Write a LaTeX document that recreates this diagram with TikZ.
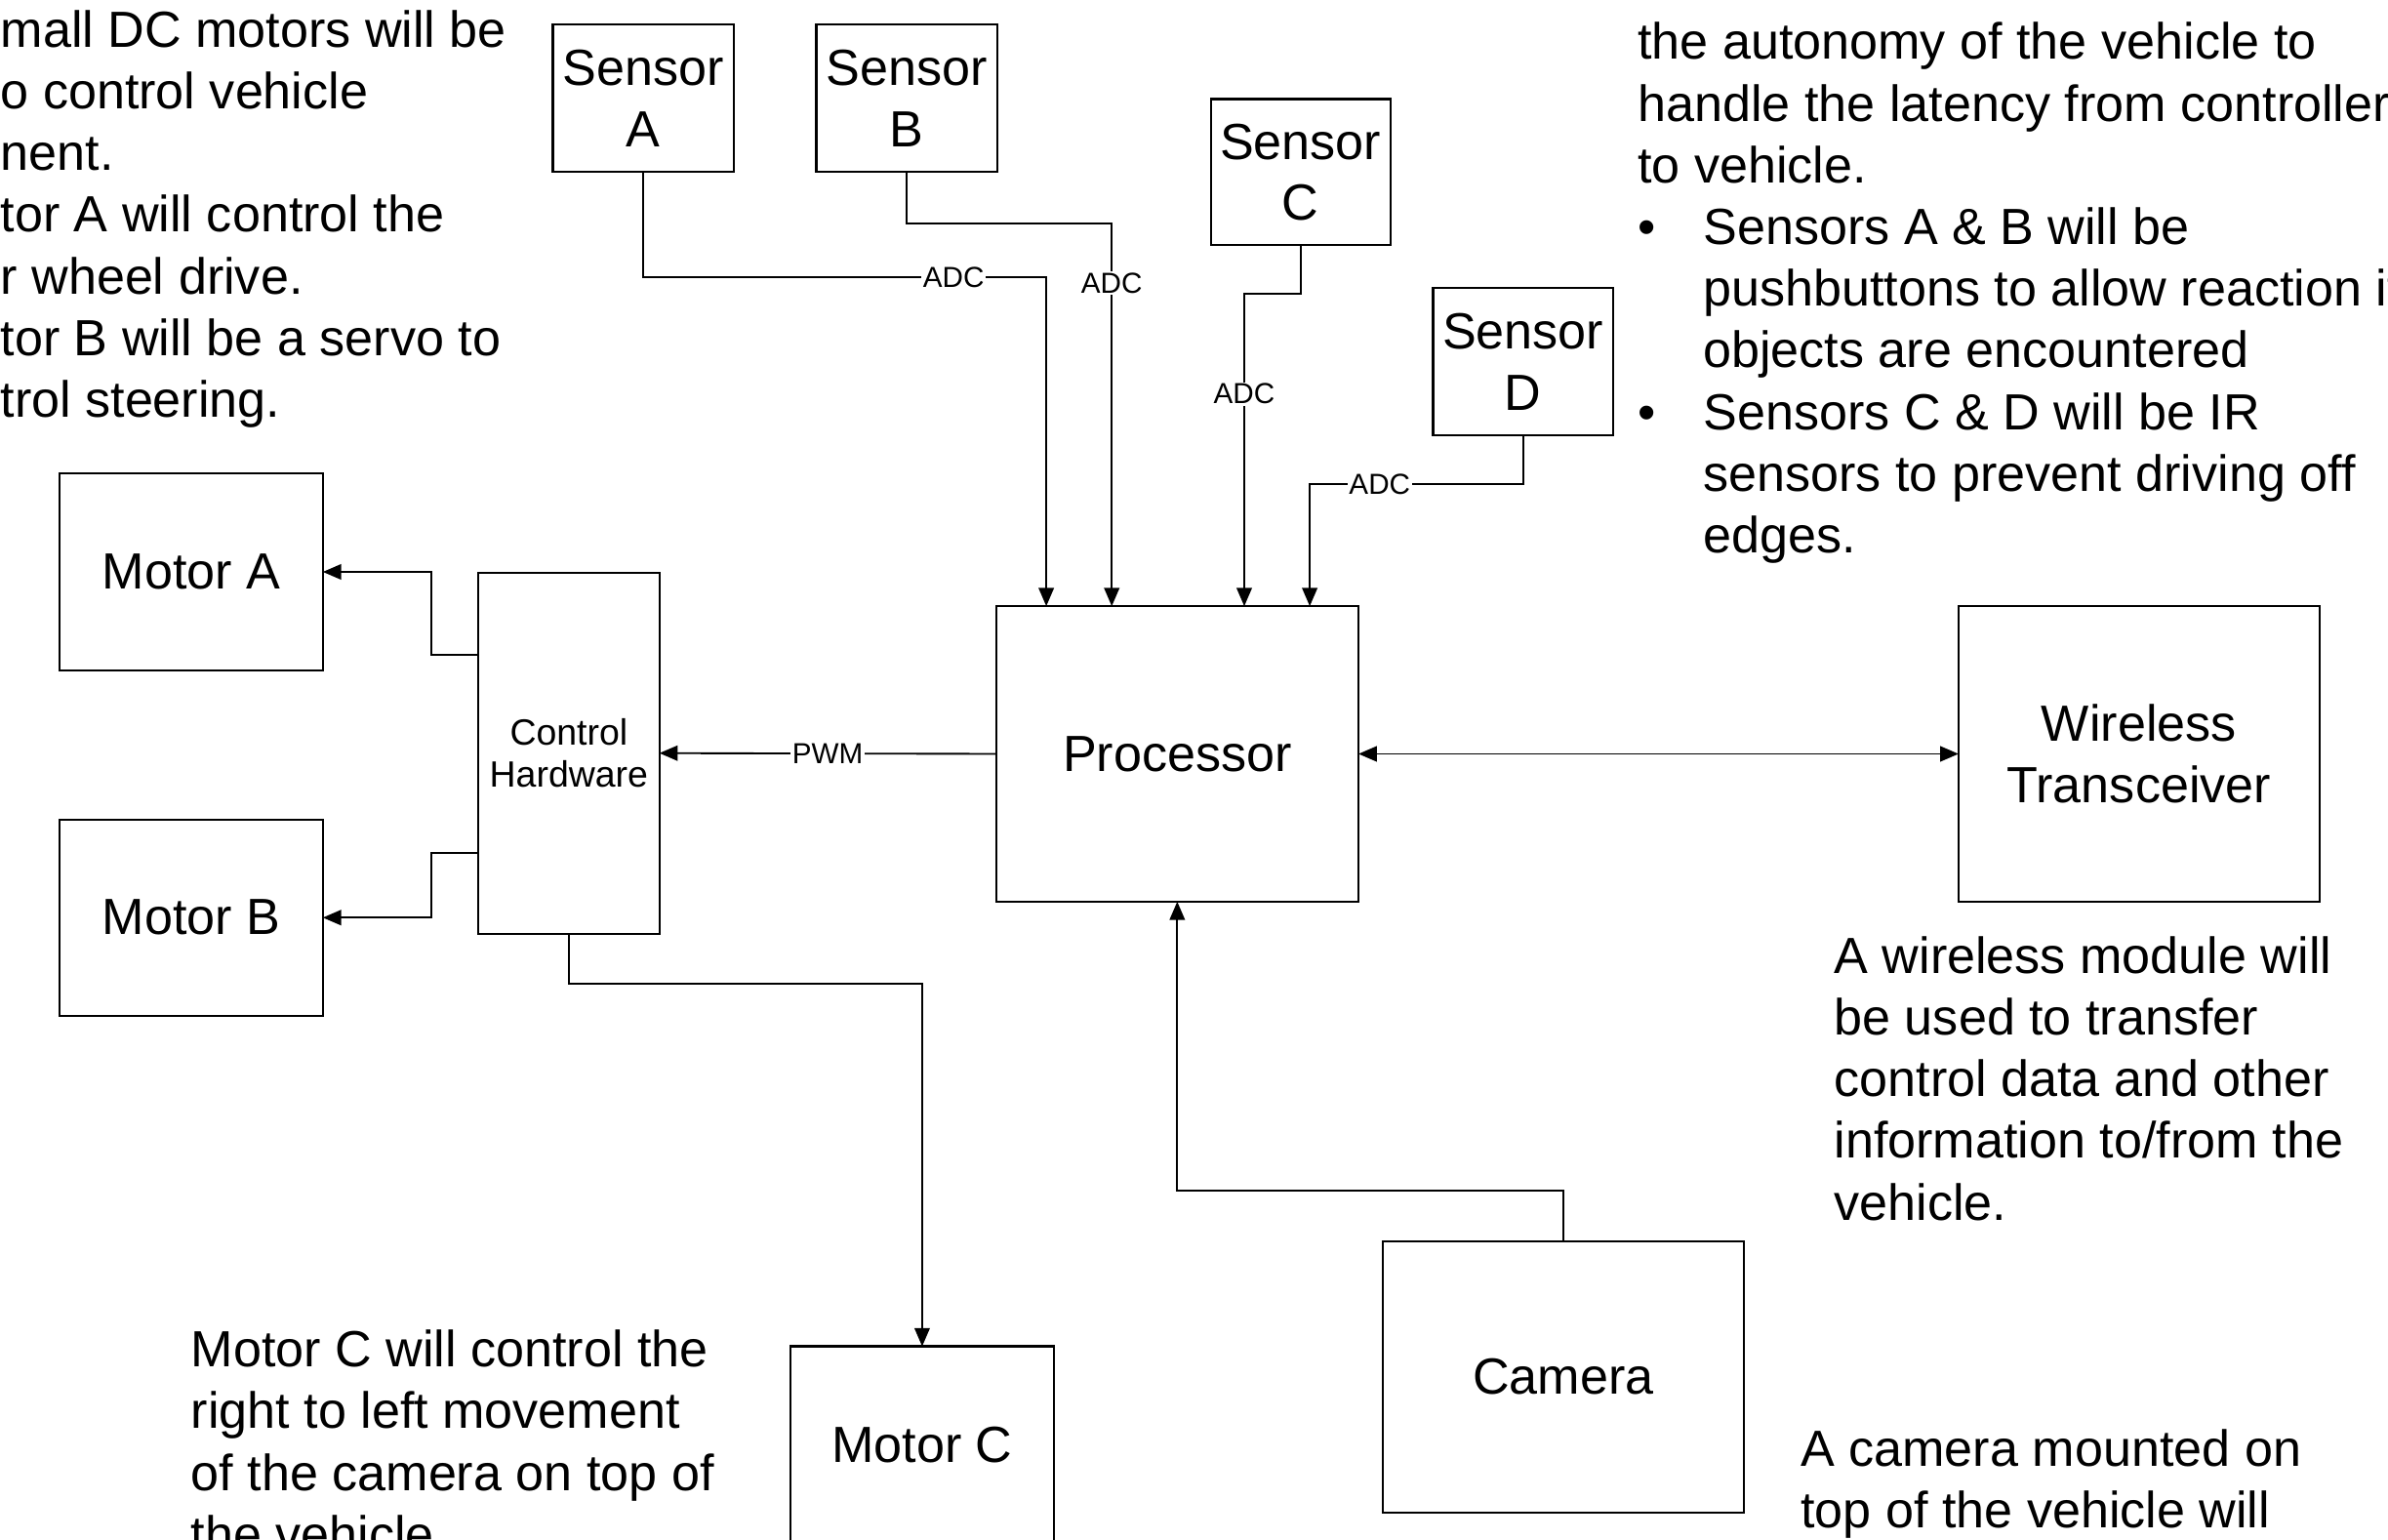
\documentclass[tikz,border=0pt]{standalone}
\usepackage{fontspec}
\setmainfont{Liberation Sans}
\usetikzlibrary{arrows.meta}
\newcommand\mybul{\makebox[21.5pt][l]{•}}
\newcommand\myind{\hspace*{21.5pt}}
\begin{document}
\begin{tikzpicture}[x=0.5pt,y=-0.5pt,
  box/.style={draw, line width=0.7pt, inner sep=0pt, outer sep=0pt, align=center,
    font=\fontsize{16.7pt}{20pt}\selectfont},
  smallbox/.style={box, font=\fontsize{12pt}{14pt}\selectfont},
  arr/.style={-{Triangle[length=6pt,width=5pt]}, line width=0.6pt},
  arrboth/.style={{Triangle[length=6pt,width=5pt]}-{Triangle[length=6pt,width=5pt]}, line width=0.6pt},
  lbl/.style={fill=white, inner sep=0.5pt, font=\fontsize{9.5pt}{11pt}\selectfont},
  txt/.style={anchor=base west, inner sep=0pt, align=left,
    font=\fontsize{16.7pt}{20.25pt}\selectfont}
]
\useasboundingbox (0,0) rectangle (1568,1011);
\clip (0,0) rectangle (1568,1011);
\fill[white] (0,0) rectangle (1568,1011);

% boxes
\node[box, minimum width=59.5pt, minimum height=48.5pt] (sA) at (422.5,64.5) {Sensor\\A};
\node[box, minimum width=59.5pt, minimum height=48.5pt] (sB) at (595.5,64.5) {Sensor\\B};
\node[box, minimum width=59pt, minimum height=48pt] (sC) at (854,113) {Sensor\\C};
\node[box, minimum width=59pt, minimum height=48.5pt] (sD) at (1000,237.5) {Sensor\\D};
\node[box, minimum width=119pt, minimum height=97pt] (proc) at (773,495) {Processor};
\node[box, minimum width=118.5pt, minimum height=97pt] (wl) at (1404.5,495) {Wireless\\Transceiver};
\node[smallbox, minimum width=59.5pt, minimum height=118.5pt] (ctrl) at (373.5,494.5) {Control\\Hardware};
\node[box, minimum width=86.5pt, minimum height=64.5pt] (mA) at (125.5,375.5) {Motor A};
\node[box, minimum width=86.5pt, minimum height=64.5pt] (mB) at (125.5,602.5) {Motor B};
\node[box, minimum width=86.5pt, minimum height=64.5pt] (mC) at (605.5,948.5) {Motor C};
\node[box, minimum width=118.5pt, minimum height=89pt] (cam) at (1026.5,904) {Camera};

% sensor connectors
\draw[arr] (sA.south) |- node[lbl, pos=0.885] {ADC} (687,182) -- ([xshift=16.5pt]proc.north west);
\draw[arr] (sB.south) |- (730,147) -- node[lbl, pos=0.155] {ADC} ([xshift=38pt]proc.north west);
\draw[arr] (sC.south) |- (817,193) -- node[lbl, pos=0.32] {ADC} ([xshift=81.5pt]proc.north west);
\draw[arr] (sD.south) |- node[lbl, pos=0.836] {ADC} (860,318) -- ([xshift=103pt]proc.north west);

% processor connectors
\draw[arr] (proc.west) -- node[lbl, pos=0.5] {PWM} (ctrl.east);
\draw[arrboth] (proc.east) -- (wl.west);
\draw[arr] (cam.north) -- (1026.5,782) -| (proc.south);

% control hardware to motors
\draw[arr] ([yshift=32.25pt]ctrl.west) -- (283,430) |- (mA.east);
\draw[arr] ([yshift=-32.75pt]ctrl.west) -- (283,560) |- (mB.east);
\draw[arr] (ctrl.south) -- (373.5,646) -| (mC.north);

% text blocks (base anchor = baseline of the last line)
\node[txt] (tl) at (0,274) {mall DC motors will be\\o control vehicle\\nent.\\tor A will control the\\r wheel drive.\\tor B will be a servo to\\trol steering.};
\node[txt] (tr) at (1075,363) {Sensors will be used to increase\\the autonomy of the vehicle to\\handle the latency from controller\\to vehicle.\\\mybul Sensors A \& B will be\\\myind pushbuttons to allow reaction if\\\myind objects are encountered\\\mybul Sensors C \& D will be IR\\\myind sensors to prevent driving off\\\myind edges.};
\node[txt] (wtxt) at (1204,801) {A wireless module will\\be used to transfer\\control data and other\\information to/from the\\vehicle.};
\node[txt] (ctxt) at (1182,1003) {A camera mounted on\\top of the vehicle will};
\node[txt] (mtxt) at (125,1019) {Motor C will control the\\right to left movement\\of the camera on top of\\the vehicle.};
\end{tikzpicture}
\end{document}
